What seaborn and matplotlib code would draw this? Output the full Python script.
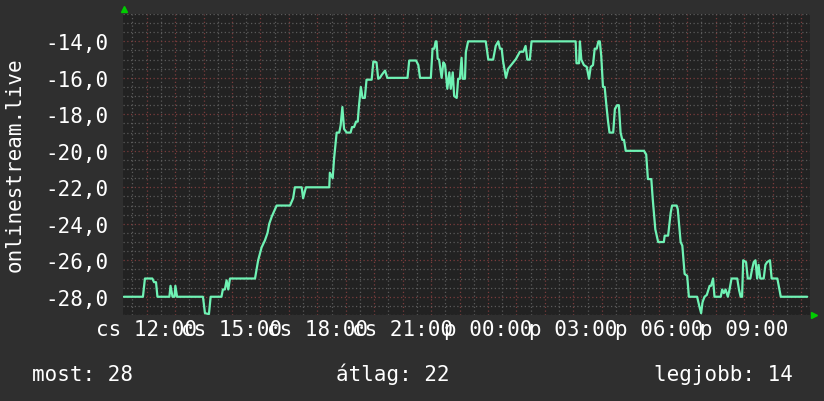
import pandas as pd
import seaborn as sns
import matplotlib.pyplot as plt
from matplotlib.ticker import MultipleLocator

# Time in hours from Thursday 00:00 (so Friday 00:00 = 24), rank value
hours = [11.20, 11.87, 11.94, 12.20, 12.26, 12.33, 12.38, 12.80, 12.84, 12.91,
         12.98, 13.01, 13.07, 13.98, 14.05, 14.19, 14.25, 14.63, 14.68, 14.75,
         14.81, 14.87, 14.93, 15.81, 15.92, 16.04, 16.16, 16.25, 16.31, 16.40,
         16.57, 17.04, 17.15, 17.21, 17.45, 17.50, 17.60, 18.42, 18.44, 18.54,
         18.59, 18.68, 18.77, 18.82, 18.88, 18.94, 19.03, 19.17, 19.22, 19.29,
         19.36, 19.42, 19.46, 19.53, 19.59, 19.67, 19.73, 19.91, 19.97, 20.08,
         20.14, 20.20, 20.26, 20.38, 20.46, 21.17, 21.23, 21.47, 21.55, 21.61,
         21.99, 22.05, 22.11, 22.16, 22.19, 22.23, 22.28, 22.37, 22.43, 22.49,
         22.57, 22.64, 22.69, 22.76, 22.81, 22.90, 22.95, 23.01, 23.07, 23.11,
         23.19, 23.22, 23.30, 23.92, 24.01, 24.18, 24.27, 24.36, 24.42, 24.48,
         24.53, 24.63, 24.71, 24.89, 24.98, 25.12, 25.24, 25.32, 25.38, 25.47,
         25.53, 27.08, 27.11, 27.20, 27.23, 27.28, 27.37, 27.47, 27.55, 27.61,
         27.69, 27.75, 27.82, 27.88, 27.93, 27.98, 28.04, 28.10, 28.16, 28.22,
         28.27, 28.40, 28.46, 28.54, 28.60, 28.66, 28.72, 28.78, 28.84, 29.48,
         29.56, 29.62, 29.74, 29.79, 29.88, 29.98, 30.18, 30.21, 30.33, 30.42,
         30.47, 30.63, 30.67, 30.77, 30.83, 30.91, 31.00, 31.06, 31.35, 31.44,
         31.49, 31.54, 31.61, 31.69, 31.79, 31.84, 31.91, 31.96, 32.18, 32.23,
         32.29, 32.35, 32.43, 32.49, 32.56, 32.76, 32.82, 32.88, 32.93, 32.97,
         33.07, 33.13, 33.22, 33.28, 33.34, 33.40, 33.46, 33.51, 33.57, 33.69,
         33.75, 33.81, 33.91, 33.97, 34.17, 34.23, 34.29, 35.22]
rank = [-28, -28, -27, -27, -27.2, -27.2, -28, -28, -27.4, -28,
        -28, -27.4, -28, -28, -28.9, -28.95, -28, -28, -27.6, -27.6,
        -27.1, -27.6, -27, -27, -26, -25.3, -24.9, -24.5, -24, -23.6,
        -23, -23, -22.6, -22, -22, -22.6, -22, -22, -21.2, -21.5,
        -20.4, -19, -19, -18.6, -17.6, -18.8, -19, -19, -18.7, -18.7,
        -18.4, -18.4, -17.6, -16.5, -17.1, -17.1, -16.1, -16.1, -15.1, -15.15,
        -16.05, -16, -15.85, -15.6, -16, -16, -15.05, -15.05, -15.3, -16,
        -16, -14.4, -14.4, -14, -14, -14.95, -15, -16, -15.15, -15.3,
        -16.6, -15.7, -16.6, -15.7, -17, -17.1, -16.05, -16.05, -14.9, -16.05,
        -16.05, -14.6, -14, -14, -15, -15, -14.25, -14, -14.4, -14.4,
        -15.1, -16, -15.5, -15.15, -14.97, -14.57, -14.57, -14.25, -15, -15,
        -14, -14, -15.2, -15.2, -14, -15, -15.3, -15.4, -16.05, -15.4,
        -15.3, -14.4, -14.4, -14, -14, -14.8, -16.5, -16.5, -17.5, -18.4,
        -19, -19, -17.7, -17.5, -17.5, -19, -19.4, -19.4, -20, -20,
        -20.2, -21.55, -21.55, -22.65, -24.3, -25, -25, -24.65, -24.65, -23.4,
        -23, -23, -23.2, -25, -25.2, -26.75, -26.85, -28, -28, -28.6,
        -28.9, -28.3, -28, -27.9, -27.4, -27.4, -27, -28, -28, -27.6,
        -27.8, -27.6, -28, -27.6, -27, -27, -27.6, -28, -28, -26,
        -26.1, -27, -27, -26.5, -26.1, -26, -27, -26.25, -27, -27,
        -26.25, -26.1, -26, -27, -27, -27.5, -28, -28]

x_ticks = [12, 15, 18, 21, 24, 27, 30, 33]
x_labels = ['cs 12:00', 'cs 15:00', 'cs 18:00', 'cs 21:00',
            'p 00:00', 'p 03:00', 'p 06:00', 'p 09:00']
y_ticks = [-14, -16, -18, -20, -22, -24, -26, -28]
y_labels = ['-14,0', '-16,0', '-18,0', '-20,0', '-22,0', '-24,0', '-26,0', '-28,0']

df = pd.DataFrame({'hour': hours, 'rank': rank})

sns.set_style('dark')
plt.rcParams['font.family'] = ['DejaVu Sans Mono']

bg = '#2f2f2f'
fig = plt.figure(figsize=(8.24, 4.02), dpi=100, facecolor=bg)
ax = fig.add_axes([123.3 / 824, 86 / 402, 686.2 / 824, 301 / 402])
ax.set_facecolor('#222222')

sns.lineplot(data=df, x='hour', y='rank', ax=ax, sort=False, estimator=None,
             color='#6ff2b4', linewidth=1.6, zorder=3)

ax.set_xlim(11.18, 35.30)
ax.set_ylim(-29.0, -12.5)

# grid: grey minor every 30 min / 0.5, reddish major every hour / 2
ax.xaxis.set_major_locator(MultipleLocator(1))
ax.xaxis.set_minor_locator(MultipleLocator(0.5))
ax.yaxis.set_minor_locator(MultipleLocator(0.5))
ax.yaxis.set_major_locator(plt.FixedLocator(y_ticks))
ax.grid(which='minor', color='#5a5a5a', linestyle=(0, (1, 2)), linewidth=0.9)
ax.grid(which='major', color='#7a3c3c', linestyle=(0, (1, 2)), linewidth=0.9)
ax.tick_params(which='both', length=0)

# labels drawn on secondary axis so the grid stays hourly
lab = ax.secondary_xaxis('bottom')
lab.set_xticks(x_ticks)
lab.set_xticklabels(x_labels)
lab.tick_params(length=0, pad=3, labelsize=15, colors='white')
lab.spines['bottom'].set_visible(False)
ax.set_xticklabels([])

ax.set_yticklabels(y_labels)
ax.tick_params(axis='y', labelsize=15, colors='white', pad=11)

ax.set_xlabel('')
ax.set_ylabel('')
for s in ax.spines.values():
    s.set_visible(False)

fig.text(15 / 824, (402 - 165) / 402, 'onlinestream.live', fontsize=15, color='white',
         rotation=90, ha='center', va='center')

# rrd style axis arrows
ax.plot([0.001], [1.017], marker='^', color='#00cc00', markersize=5,
        transform=ax.transAxes, clip_on=False)
ax.plot([1.006], [0.0], marker='>', color='#00cc00', markersize=5,
        transform=ax.transAxes, clip_on=False)

fig.text(32 / 824, 21 / 402, 'most: 28', fontsize=15, color='white', va='baseline', ha='left')
fig.text(393 / 824, 21 / 402, 'átlag: 22', fontsize=15, color='white', va='baseline', ha='center')
fig.text(793 / 824, 21 / 402, 'legjobb: 14', fontsize=15, color='white', va='baseline', ha='right')

fig.savefig('out.png', dpi=100, facecolor=bg)
